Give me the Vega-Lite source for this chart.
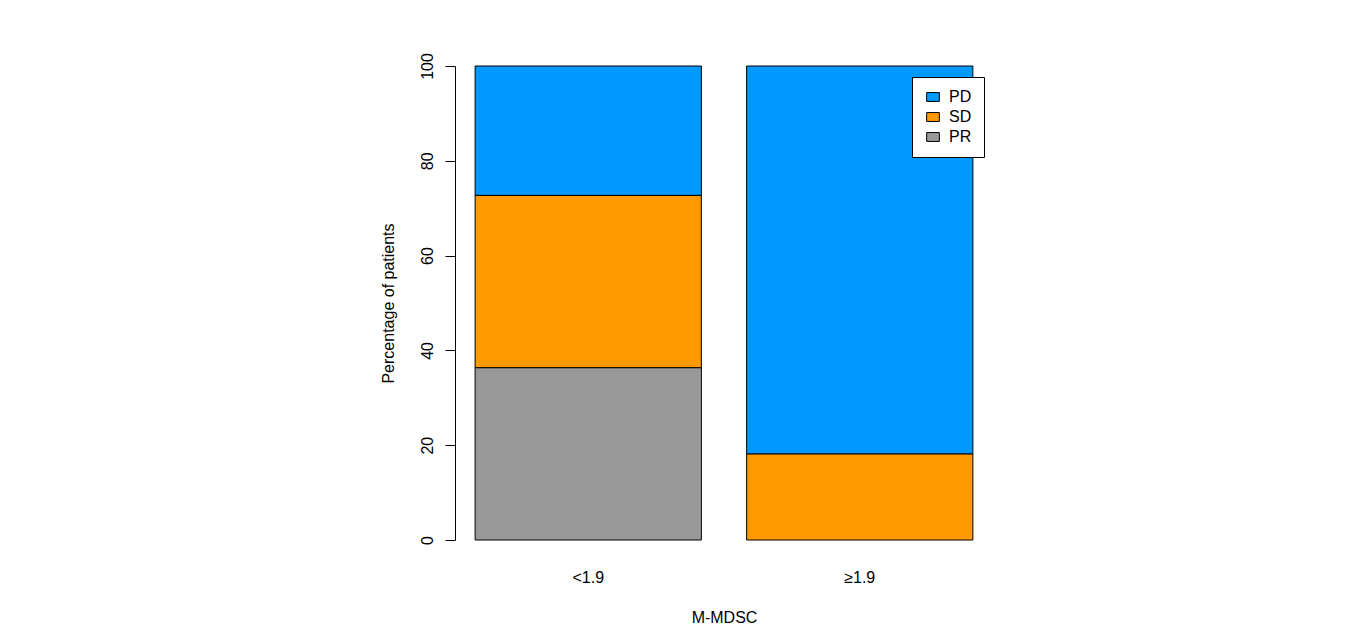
{
  "$schema": "https://vega.github.io/schema/vega-lite/v6.json",
  "autosize": {"type": "none"},
  "width": 538,
  "height": 474,
  "padding": {"left": 455, "top": 66, "right": 363, "bottom": 91},
  "background": "white",
  "config": {
    "view": {"stroke": null},
    "font": "Liberation Sans",
    "axis": {"labelFont": "Liberation Sans", "titleFont": "Liberation Sans", "labelFontSize": 16, "titleFontSize": 16, "labelColor": "black", "titleColor": "black", "titleFontWeight": "normal", "domainColor": "black", "tickColor": "black", "grid": false},
    "legend": {"labelFont": "Liberation Sans", "labelFontSize": 16, "labelColor": "black"}
  },
  "data": {
    "values": [
      {"group": "<1.9", "response": "PR", "percent": 36.36},
      {"group": "<1.9", "response": "SD", "percent": 36.36},
      {"group": "<1.9", "response": "PD", "percent": 27.28},
      {"group": "≥1.9", "response": "SD", "percent": 18.18},
      {"group": "≥1.9", "response": "PD", "percent": 81.82}
    ]
  },
  "transform": [
    {"calculate": "indexof(['PR','SD','PD'], datum.response)", "as": "stackOrder"}
  ],
  "mark": {"type": "bar", "stroke": "black", "strokeWidth": 1},
  "encoding": {
    "x": {
      "field": "group",
      "type": "nominal",
      "sort": ["<1.9", "≥1.9"],
      "scale": {"paddingInner": 0.1667, "paddingOuter": 0.0741},
      "axis": {"title": "M-MDSC", "labelAngle": 0, "domain": false, "ticks": false, "tickSize": 0, "labelPadding": 42, "labelBaseline": "alphabetic", "titleY": 82, "titleBaseline": "alphabetic"}
    },
    "y": {
      "field": "percent",
      "type": "quantitative",
      "stack": "zero",
      "scale": {"domain": [0, 100], "nice": false},
      "axis": {"title": "Percentage of patients", "values": [0, 20, 40, 60, 80, 100], "tickSize": 10, "labelAngle": 270, "labelAlign": "center", "labelBaseline": "alphabetic", "labelPadding": 13, "titleBaseline": "alphabetic", "titleX": -62}
    },
    "color": {
      "field": "response",
      "type": "nominal",
      "scale": {"domain": ["PD", "SD", "PR"], "range": ["#0099FF", "#FF9900", "#999999"]},
      "legend": {
        "title": null,
        "orient": "none",
        "legendX": 457,
        "legendY": 11,
        "fillColor": "white",
        "strokeColor": "black",
        "padding": 12,
        "symbolType": "M-1,-0.7H1V0.7H-1Z",
        "symbolSize": 161,
        "symbolStrokeColor": "black",
        "symbolStrokeWidth": 1,
        "symbolOffset": 1,
        "labelOffset": 8,
        "rowPadding": 4
      }
    },
    "order": {"field": "stackOrder", "type": "quantitative"}
  }
}
